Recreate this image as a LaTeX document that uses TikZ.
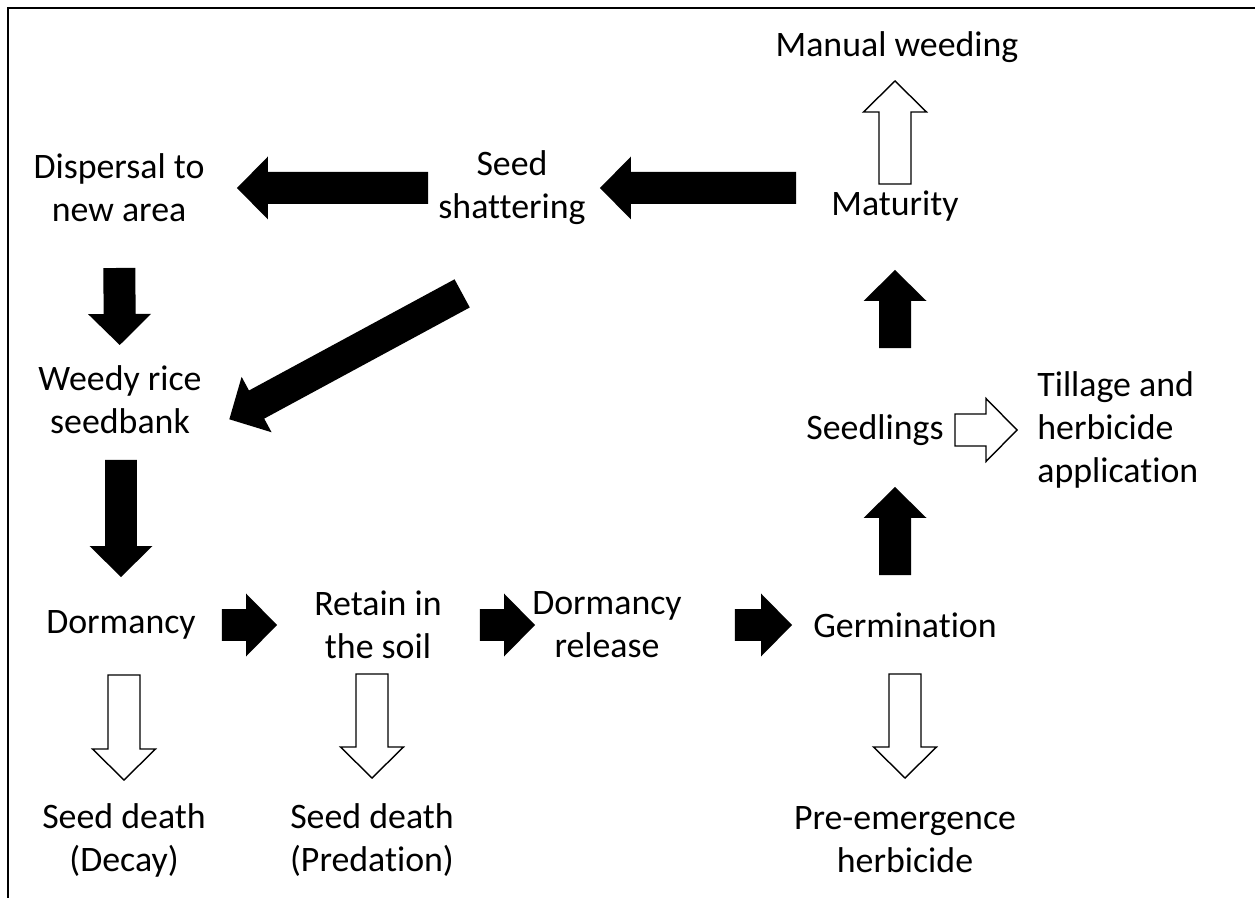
\documentclass[tikz,border=0pt]{standalone}
\usepackage{fontspec}
\setmainfont{Carlito}[Ligatures=NoCommon]
\usepackage{tikz}
\usetikzlibrary{positioning,calc}

\newcommand{\pxu}{0.5691pt}
\tikzset{
  gapoff/.store in=\gapoff, gapoff=0,
  fat/.style 2 args={to path={
    let \p1=(\tikztostart), \p2=(\tikztotarget),
        \n1={atan2(\y2-\y1,\x2-\x1)}, \n2={veclen(\x2-\x1,\y2-\y1)} in
    {[shift={(\p1)}, rotate=\n1]
      ({#1*\pxu}, {(\gapoff+16)*\pxu})
      -- ({\n2*1pt-(#2+31)*\pxu}, {(\gapoff+16)*\pxu})
      -- ({\n2*1pt-(#2+31)*\pxu}, {(\gapoff+31.5)*\pxu})
      -- ({\n2*1pt-#2*\pxu}, {\gapoff*\pxu})
      -- ({\n2*1pt-(#2+31)*\pxu}, {(\gapoff-31.5)*\pxu})
      -- ({\n2*1pt-(#2+31)*\pxu}, {(\gapoff-16)*\pxu})
      -- ({#1*\pxu}, {(\gapoff-16)*\pxu}) -- cycle}
  }},
  blackarrow/.style={fill=black},
  whitearrow/.style={fill=white, draw=black, line width=0.8pt},
}

\begin{document}
\begin{tikzpicture}[x=0.02cm, y=-0.02cm,
    txt/.style={font=\fontsize{20.4}{24.5}\selectfont, align=center, inner sep=0pt}]
   \useasboundingbox (0,0) rectangle (1255,898);
   \draw[line width=1.1pt] (8,898) |- (1255,8);

   % top row
   \node (manual) at (897,47) [txt] {Manual weeding};
   \node (disp) at (119,188) [txt] {Dispersal to\\new area};
   \node (shat) at (512,188) [txt] {Seed\\shattering};
   \node (mat) at (895,206) [txt] {Maturity};

   % middle
   \node (weedy) at (120,400) [txt] {Weedy rice\\seedbank};
   \node (seedl) at (875,430) [txt] {Seedlings};
   \node (till) at (1037,430) [txt, align=left, anchor=west] {Tillage and\\herbicide\\application};

   % bottom row
   \node (dorm) at (121,625) [txt] {Dormancy};
   \node (retain) at (378,625) [txt] {Retain in\\the soil};
   \node (drel) at (607,625) [txt] {Dormancy\\release};
   \node (germ) at (905,625) [txt] {Germination};
   \node (death1) at (124,840) [txt] {Seed death\\(Decay)};
   \node (death2) at (372,840) [txt] {Seed death\\(Predation)};
   \node (preem) at (905,840) [txt] {Pre-emergence\\herbicide};

   % life cycle
   \path[blackarrow] (shat -| mat) to[fat={99}{88}] (shat);
   \path[blackarrow] (shat) to[fat={84}{118}] (disp);
   \path[blackarrow] (disp) to[fat={80}{55}] (weedy);
   \path[blackarrow, gapoff=69] (shat) to[fat={94}{87}] (weedy);
   \path[blackarrow] (weedy -| dorm) to[fat={60}{48}] (dorm);
   \path[blackarrow] (dorm) to[fat={101}{101}] (retain);
   \path[blackarrow] (retain) to[fat={102}{72}] (drel);
   \path[blackarrow] (drel) to[fat={128}{113}] (germ);
   \path[blackarrow] (germ -| mat) to[fat={50}{57}] (seedl -| mat);
   \path[blackarrow] (seedl -| mat) to[fat={82}{64}] (mat);

   % control
   \path[whitearrow] (mat) to[fat={22}{34}] (mat |- manual);
   \path[whitearrow] (seedl) to[fat={80}{20}] (seedl -| till.west);
   \path[whitearrow] (death1 |- dorm) to[fat={50}{60}] (death1);
   \path[whitearrow] (death2 |- retain) to[fat={49}{62}] (death2);
   \path[whitearrow] (germ) to[fat={49}{62}] (preem);

\end{tikzpicture}
\end{document}
